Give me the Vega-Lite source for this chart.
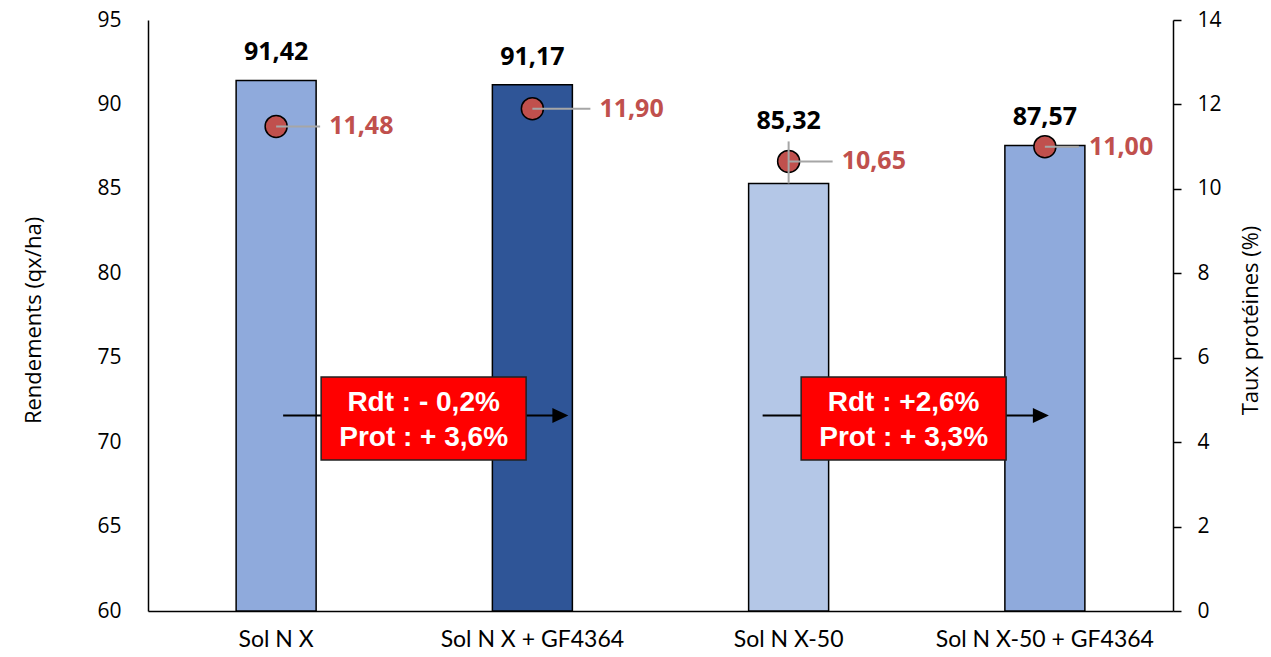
{
  "$schema": "https://vega.github.io/schema/vega-lite/v6.json",
  "width": 1025,
  "height": 591,
  "autosize": {"type": "none"},
  "padding": {"left": 148, "top": 20, "right": 98, "bottom": 46},
  "background": "white",
  "config": {
    "view": {"stroke": null},
    "font": "Open Sans",
    "locale": {"number": {"decimal": ",", "thousands": " ", "grouping": [3], "currency": ["", " €"]}}
  },
  "datasets": {
    "essai": [
      {"modalite": "Sol N X", "rendement": 91.42, "proteines": 11.48},
      {"modalite": "Sol N X + GF4364", "rendement": 91.17, "proteines": 11.90},
      {"modalite": "Sol N X-50", "rendement": 85.32, "proteines": 10.65},
      {"modalite": "Sol N X-50 + GF4364", "rendement": 87.57, "proteines": 11.00}
    ],
    "ecarts": [
      {"de": "Sol N X", "vers": "Sol N X + GF4364", "texte": "Rdt : - 0,2%\nProt : + 3,6%"},
      {"de": "Sol N X-50", "vers": "Sol N X-50 + GF4364", "texte": "Rdt : +2,6%\nProt : + 3,3%"}
    ]
  },
  "resolve": {"scale": {"y": "independent"}, "axis": {"y": "independent"}},
  "layer": [
    {
      "data": {"name": "essai"},
      "encoding": {
        "x": {
          "field": "modalite", "type": "nominal", "sort": null,
          "scale": {"domain": ["Sol N X", "Sol N X + GF4364", "Sol N X-50", "Sol N X-50 + GF4364"], "paddingInner": 0, "paddingOuter": 0},
          "axis": {
            "orient": "bottom", "title": null, "ticks": false, "labelAngle": 0, "labelLimit": 400,
            "domainColor": "black", "domainWidth": 1.5,
            "labelFont": "Lato", "labelFontSize": 23, "labelColor": "black", "labelPadding": 17
          }
        },
        "y": {
          "field": "rendement", "type": "quantitative",
          "scale": {"domain": [60, 95], "zero": false, "nice": false},
          "axis": {
            "orient": "left", "values": [60, 65, 70, 75, 80, 85, 90, 95], "format": "d",
            "grid": false, "ticks": false, "domainColor": "black", "domainWidth": 1.5,
            "labelFontSize": 21, "labelColor": "black", "labelPadding": 27,
            "title": "Rendements (qx/ha)", "titleFontSize": 22, "titleFontWeight": "normal", "titleColor": "black",
            "titleAngle": -90, "titleX": -115, "titleY": 300, "titleAlign": "center", "titleBaseline": "middle"
          }
        }
      },
      "layer": [
        {
          "mark": {"type": "bar", "width": 80, "stroke": "black", "strokeWidth": 1.5},
          "encoding": {
            "y2": {"datum": 60},
            "color": {
              "field": "modalite", "type": "nominal", "legend": null,
              "scale": {"domain": ["Sol N X", "Sol N X + GF4364", "Sol N X-50", "Sol N X-50 + GF4364"], "range": ["#8FAADC", "#2F5597", "#B4C7E7", "#8FAADC"]}
            }
          }
        },
        {
          "transform": [{"filter": "datum.modalite != 'Sol N X-50'"}],
          "mark": {"type": "text", "dy": -20, "baseline": "alphabetic", "fontWeight": "bold", "fontSize": 25, "color": "black"},
          "encoding": {"text": {"field": "rendement", "type": "quantitative", "format": ".2f"}}
        },
        {
          "transform": [{"filter": "datum.modalite == 'Sol N X-50'"}],
          "mark": {"type": "text", "dy": -54, "baseline": "alphabetic", "fontWeight": "bold", "fontSize": 25, "color": "black"},
          "encoding": {"text": {"field": "rendement", "type": "quantitative", "format": ".2f"}}
        }
      ]
    },
    {
      "data": {"name": "essai"},
      "encoding": {
        "x": {"field": "modalite", "type": "nominal", "sort": null},
        "y": {
          "field": "proteines", "type": "quantitative",
          "scale": {"domain": [0, 14], "nice": false},
          "axis": {
            "orient": "right", "values": [0, 2, 4, 6, 8, 10, 12, 14], "format": "d",
            "grid": false, "ticks": true, "tickSize": 8, "tickColor": "black", "tickWidth": 1.5,
            "domainColor": "black", "domainWidth": 1.5,
            "labelFontSize": 21, "labelColor": "black", "labelPadding": 16,
            "title": "Taux protéines (%)", "titleFontSize": 22, "titleFontWeight": "normal", "titleColor": "black",
            "titleAngle": -90, "titleX": 77, "titleY": 300, "titleAlign": "center", "titleBaseline": "middle"
          }
        }
      },
      "layer": [
        {
          "mark": {"type": "point", "shape": "circle", "size": 484, "filled": true, "fill": "#C0504D", "stroke": "black", "strokeWidth": 1.5, "opacity": 1}
        },
        {
          "transform": [{"filter": "datum.modalite == 'Sol N X' || datum.modalite == 'Sol N X-50'"}],
          "mark": {"type": "rule", "color": "#A6A6A6", "strokeWidth": 2, "x2Offset": 44},
          "encoding": {"x2": {"field": "modalite"}}
        },
        {
          "transform": [{"filter": "datum.modalite == 'Sol N X + GF4364'"}],
          "mark": {"type": "rule", "color": "#A6A6A6", "strokeWidth": 2, "x2Offset": 58},
          "encoding": {"x2": {"field": "modalite"}}
        },
        {
          "transform": [{"filter": "datum.modalite == 'Sol N X-50 + GF4364'"}],
          "mark": {"type": "rule", "color": "#A6A6A6", "strokeWidth": 2, "x2Offset": 34},
          "encoding": {"x2": {"field": "modalite"}}
        },
        {
          "transform": [{"filter": "datum.modalite == 'Sol N X-50'"}],
          "mark": {"type": "rule", "color": "#A6A6A6", "strokeWidth": 2, "yOffset": -20, "y2Offset": 22},
          "encoding": {"y2": {"field": "proteines"}}
        },
        {
          "transform": [{"filter": "datum.modalite == 'Sol N X' || datum.modalite == 'Sol N X-50'"}],
          "mark": {"type": "text", "align": "left", "baseline": "middle", "dx": 53, "fontWeight": "bold", "fontSize": 25, "color": "#C0504D"},
          "encoding": {"text": {"field": "proteines", "type": "quantitative", "format": ".2f"}}
        },
        {
          "transform": [{"filter": "datum.modalite == 'Sol N X + GF4364'"}],
          "mark": {"type": "text", "align": "left", "baseline": "middle", "dx": 67, "fontWeight": "bold", "fontSize": 25, "color": "#C0504D"},
          "encoding": {"text": {"field": "proteines", "type": "quantitative", "format": ".2f"}}
        },
        {
          "transform": [{"filter": "datum.modalite == 'Sol N X-50 + GF4364'"}],
          "mark": {"type": "text", "align": "left", "baseline": "middle", "dx": 44, "fontWeight": "bold", "fontSize": 25, "color": "#C0504D"},
          "encoding": {"text": {"field": "proteines", "type": "quantitative", "format": ".2f"}}
        }
      ]
    },
    {
      "data": {"name": "ecarts"},
      "layer": [
        {
          "transform": [{"filter": "datum.de == 'Sol N X'"}],
          "layer": [
            {
              "mark": {"type": "rule", "color": "black", "strokeWidth": 2, "xOffset": 7, "x2Offset": 26},
              "encoding": {
                "x": {"field": "de", "type": "nominal", "sort": null},
                "x2": {"field": "vers"},
                "y": {"datum": 71.58, "type": "quantitative", "scale": {"domain": [60, 95], "zero": false, "nice": false}, "axis": null}
              }
            },
            {
              "mark": {"type": "point", "shape": "M-1,-0.94L1,0L-1,0.94Z", "size": 256, "filled": true, "color": "black", "opacity": 1, "xOffset": 28},
              "encoding": {
                "x": {"field": "vers", "type": "nominal", "sort": null},
                "y": {"datum": 71.58, "type": "quantitative"}
              }
            },
            {
              "mark": {"type": "point", "shape": "M-102.5,-41.5H102.5V41.5H-102.5Z", "size": 4, "filled": true, "fill": "#FF0000", "stroke": "#222222", "strokeWidth": 1.5, "opacity": 1, "xOffset": 147.5},
              "encoding": {
                "x": {"field": "de", "type": "nominal", "sort": null},
                "y": {"datum": 71.4, "type": "quantitative"}
              }
            },
            {
              "mark": {"type": "text", "font": "Liberation Sans", "fontWeight": "bold", "fontSize": 28, "color": "white", "lineBreak": "\n", "lineHeight": 35, "baseline": "middle", "align": "center", "dx": 147.5},
              "encoding": {
                "x": {"field": "de", "type": "nominal", "sort": null},
                "y": {"datum": 72.29, "type": "quantitative"},
                "text": {"field": "texte", "type": "nominal"}
              }
            }
          ]
        },
        {
          "transform": [{"filter": "datum.de == 'Sol N X-50'"}],
          "layer": [
            {
              "mark": {"type": "rule", "color": "black", "strokeWidth": 2, "xOffset": -26, "x2Offset": -6},
              "encoding": {
                "x": {"field": "de", "type": "nominal", "sort": null},
                "x2": {"field": "vers"},
                "y": {"datum": 71.58, "type": "quantitative"}
              }
            },
            {
              "mark": {"type": "point", "shape": "M-1,-0.94L1,0L-1,0.94Z", "size": 256, "filled": true, "color": "black", "opacity": 1, "xOffset": -4},
              "encoding": {
                "x": {"field": "vers", "type": "nominal", "sort": null},
                "y": {"datum": 71.58, "type": "quantitative"}
              }
            },
            {
              "mark": {"type": "point", "shape": "M-102.5,-41.5H102.5V41.5H-102.5Z", "size": 4, "filled": true, "fill": "#FF0000", "stroke": "#222222", "strokeWidth": 1.5, "opacity": 1, "xOffset": 115},
              "encoding": {
                "x": {"field": "de", "type": "nominal", "sort": null},
                "y": {"datum": 71.4, "type": "quantitative"}
              }
            },
            {
              "mark": {"type": "text", "font": "Liberation Sans", "fontWeight": "bold", "fontSize": 28, "color": "white", "lineBreak": "\n", "lineHeight": 35, "baseline": "middle", "align": "center", "dx": 115},
              "encoding": {
                "x": {"field": "de", "type": "nominal", "sort": null},
                "y": {"datum": 72.29, "type": "quantitative"},
                "text": {"field": "texte", "type": "nominal"}
              }
            }
          ]
        }
      ]
    }
  ]
}
